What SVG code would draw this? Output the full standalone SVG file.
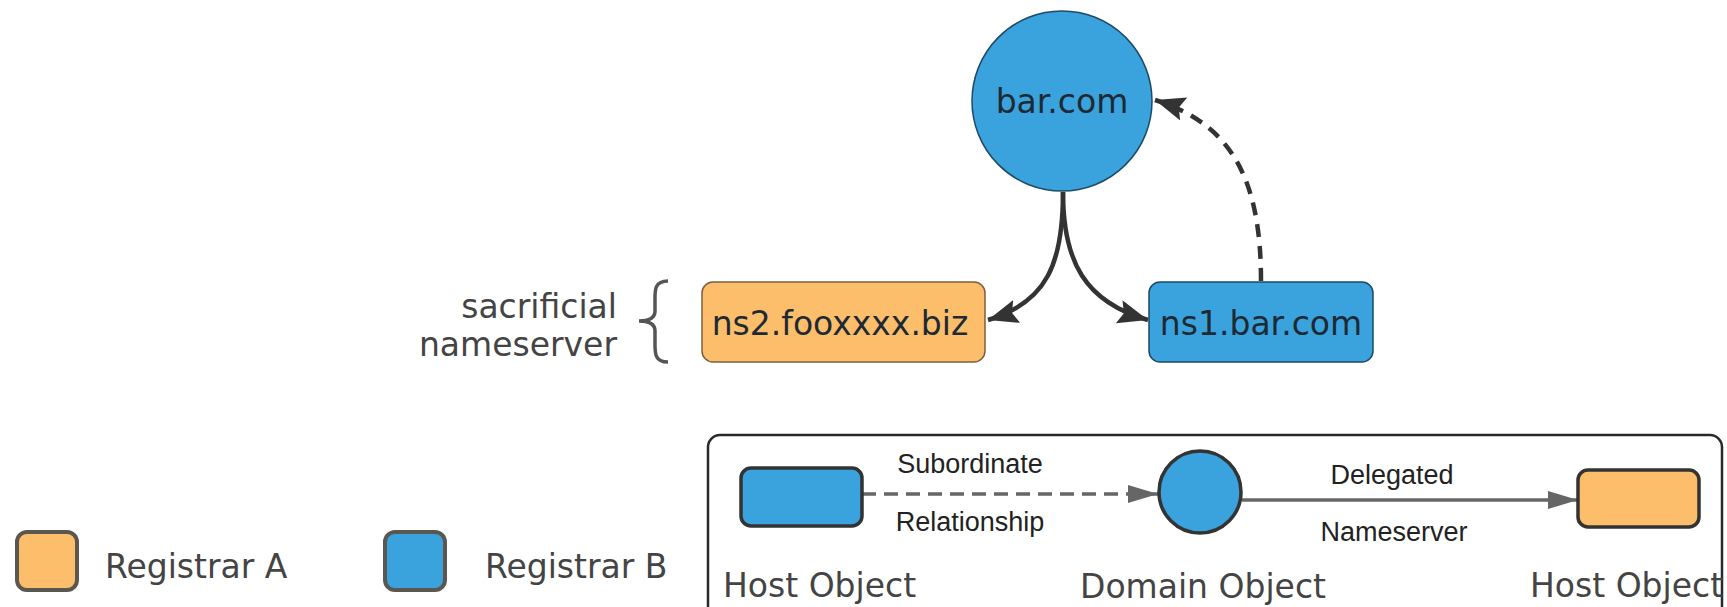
<svg xmlns="http://www.w3.org/2000/svg" width="1727" height="607" viewBox="0 0 1727 607">
  <style>
    .lbl { font-family: "DejaVu Sans", sans-serif; font-size: 33px; fill: #1e2a33; }
    .note { font-family: "DejaVu Sans", sans-serif; font-size: 33px; fill: #444; }
    .edge { font-family: "Liberation Sans", Arial, sans-serif; font-size: 27px; fill: #222; }
    .blue { fill: #3aa2dc; }
    .orange { fill: #fdbe6c; }
    .main-link { fill: none; stroke: #333; stroke-width: 4.5; }
    .leg-link { fill: none; stroke: #666; stroke-width: 3.5; }
    .leg-node { stroke: #333; stroke-width: 3.5; }
    .key { stroke: #5a5650; stroke-width: 4; }
  </style>
  <defs>
    <marker id="ahMain" markerUnits="userSpaceOnUse" markerWidth="32" markerHeight="26" refX="30" refY="12" orient="auto">
      <path d="M0,0 L30,12 L0,24 L5,12 z" fill="#333"/>
    </marker>
    <marker id="ahLeg" markerUnits="userSpaceOnUse" markerWidth="32" markerHeight="20" refX="30" refY="9" orient="auto">
      <path d="M0,0 L30,9 L0,18 z" fill="#666"/>
    </marker>
  </defs>

  <!-- connectors -->
  <g id="connectors">
    <path class="main-link" d="M1063 192 C1063 262 1048 302 988 320" marker-end="url(#ahMain)"/>
    <path class="main-link" d="M1063 192 C1063 262 1085 302 1148 320" marker-end="url(#ahMain)"/>
    <path class="main-link" d="M1261 281 C1261 180 1232 124 1155 100" stroke-dasharray="13 9" marker-end="url(#ahMain)"/>
    <path class="leg-link" d="M862 494 L1158 494" stroke-dasharray="14 8" marker-end="url(#ahLeg)"/>
    <path class="leg-link" d="M1242 500 L1578 500" marker-end="url(#ahLeg)"/>
  </g>

  <!-- main nodes -->
  <g id="node-barcom">
    <circle class="blue" cx="1062" cy="101" r="90" stroke="#1d4a66" stroke-width="1.5"/>
    <text class="lbl" x="1062" y="113" text-anchor="middle" font-size="32">bar.com</text>
  </g>
  <g id="node-ns2">
    <rect class="orange" x="702" y="282" width="283" height="80" rx="11" stroke="#7a6040" stroke-width="1.5"/>
    <text class="lbl" x="840" y="335" text-anchor="middle">ns2.fooxxxx.biz</text>
  </g>
  <g id="node-ns1">
    <rect class="blue" x="1149" y="282" width="224" height="80" rx="11" stroke="#1d4a66" stroke-width="1.5"/>
    <text class="lbl" x="1261" y="335" text-anchor="middle">ns1.bar.com</text>
  </g>

  <g id="sacrificial-note">
    <text class="note" x="617" y="318" text-anchor="end">sacrificial</text>
    <text class="note" x="617" y="356" text-anchor="end">nameserver</text>
    <path d="M668 281 C654 281 655 291 655 301 L655 311 C655 317 650 321 639 321 C650 321 655 325 655 331 L655 342 C655 352 654 362 668 362" fill="none" stroke="#555" stroke-width="3.5"/>
  </g>

  <!-- registrar key -->
  <g id="key-registrar-a">
    <rect class="orange key" x="17" y="532" width="60" height="58" rx="10"/>
    <text class="note" x="105" y="578">Registrar A</text>
  </g>
  <g id="key-registrar-b">
    <rect class="blue key" x="385" y="532" width="60" height="58" rx="10"/>
    <text class="note" x="485" y="578">Registrar B</text>
  </g>

  <!-- legend box -->
  <g id="legend">
    <rect x="708" y="435" width="1014" height="220" rx="12" fill="none" stroke="#2a2a2a" stroke-width="2.5"/>
    <g id="legend-host-blue">
      <rect class="blue leg-node" x="741" y="468" width="121" height="58" rx="10"/>
      <text class="note" x="723" y="597">Host Object</text>
    </g>
    <g id="legend-domain">
      <circle class="blue leg-node" cx="1200" cy="492" r="41"/>
      <text class="note" x="1203" y="598" text-anchor="middle">Domain Object</text>
    </g>
    <g id="legend-host-orange">
      <rect class="orange leg-node" x="1578" y="470" width="121" height="57" rx="10"/>
      <text class="note" x="1530" y="597">Host Object</text>
    </g>
    <text class="edge" x="970" y="473" text-anchor="middle">Subordinate</text>
    <text class="edge" x="970" y="531" text-anchor="middle">Relationship</text>
    <text class="edge" x="1392" y="484" text-anchor="middle">Delegated</text>
    <text class="edge" x="1394" y="541" text-anchor="middle">Nameserver</text>
  </g>
</svg>
